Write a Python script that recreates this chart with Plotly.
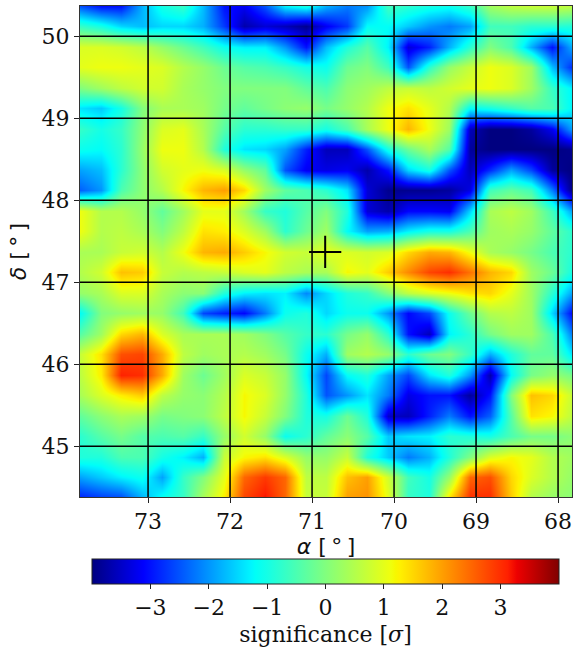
import plotly.graph_objects as go

alpha = [73.83, 73.58, 73.33, 73.08, 72.83, 72.58, 72.33, 72.08, 71.83, 71.58, 71.33, 71.08, 70.83,
         70.58, 70.33, 70.08, 69.83, 69.58, 69.33, 69.08, 68.83, 68.58, 68.33, 68.08, 67.83]
delta = [50.37, 50.12, 49.87, 49.62, 49.37, 49.12, 48.87, 48.62, 48.37, 48.12, 47.87, 47.62, 47.37,
         47.12, 46.87, 46.62, 46.37, 46.12, 45.87, 45.62, 45.37, 45.12, 44.87, 44.62, 44.37]
significance = [
 [-2.5,-3.0,-3.0,-1.8,-1.0,-0.7,-1.7,-3.0,-3.2,-2.5,-1.3,-1.0,-1.8, -2.2,-2.0,-0.6,-0.8,-1.0,-1.1,-0.7,0.3,0.6,0.7,0.7,0.6],
 [-0.7,-1.0,-1.5,-1.7,-1.5,-1.5,-1.8,-2.7,-3.7,-3.4,-3.6,-3.9,-3.2, -2.7,-1.2,-1.2,-1.6,-2.0,-2.2,-1.9,-0.6,-0.6,-0.8,-0.8,-0.9],
 [0.9,0.9,0.8,0.6,0.2,-0.2,-0.6,-1.1,-1.3,-1.3,-2.0,-3.0,-1.7, -0.9,-0.4,-1.3,-3.4,-2.9,-1.8,-0.8,0.0,-0.5,-1.8,-3.0,-1.8],
 [1.0,1.1,1.1,1.0,0.9,0.5,0.2,-0.2,-0.4,-0.5,-0.7,-1.0,-1.1, -0.2,0.0,-0.6,-2.5,-0.8,0.2,0.7,1.1,0.9,0.3,-1.7,-2.8],
 [0.0,0.3,0.6,0.8,0.8,0.4,0.2,0.0,0.0,0.0,0.0,-0.3,-0.5, 0.1,0.3,0.6,0.7,0.6,0.8,1.0,1.1,0.9,0.3,-0.7,-1.3],
 [-1.4,-1.6,-1.0,0.0,0.4,0.4,0.3,-0.1,-0.3,-0.1,0.1,0.2,-0.1, 0.2,0.5,1.1,1.4,1.0,0.5,-1.2,-1.0,-0.7,-0.4,-0.5,-1.3],
 [-0.7,-1.0,-0.7,0.1,0.9,1.0,0.4,-0.4,-0.8,-0.8,-0.7,-0.7,-1.0, -0.5,0.4,1.1,1.8,1.1,0.3,-3.6,-4.0,-4.0,-3.8,-3.2,-1.9],
 [-1.1,-1.2,-0.8,0.2,1.1,1.1,0.5,-0.9,-1.4,-1.5,-1.9,-2.9,-3.6, -3.6,-2.5,-1.0,-0.2,0.4,-0.4,-3.8,-4.0,-4.0,-4.0,-4.0,-3.9],
 [-1.9,-1.7,-0.8,0.1,0.8,1.0,1.1,0.9,0.2,-0.3,-2.5,-3.2,-3.3, -3.2,-3.7,-3.0,-1.5,-1.0,-2.5,-3.6,-2.8,-1.9,-2.6,-3.8,-4.0],
 [-2.4,-2.0,-0.5,0.1,0.5,1.2,1.8,2.0,1.5,0.3,-0.3,-0.5,-0.8, -1.4,-3.4,-3.9,-3.9,-3.9,-3.8,-3.3,-0.6,-0.3,-0.6,-2.2,-4.0],
 [1.1,0.5,0.5,0.2,-0.3,0.3,1.0,1.0,0.3,-0.7,-0.9,-0.4,0.0, -0.9,-3.4,-3.7,-3.1,-3.1,-3.2,-1.5,0.4,0.6,0.3,-0.6,-1.9],
 [1.1,0.5,0.6,0.4,0.0,0.6,1.4,1.3,0.9,0.3,-0.8,-0.2,0.3, -1.2,-1.9,-1.8,-1.3,-1.0,-1.0,-0.5,0.3,0.4,0.2,-0.3,-0.8],
 [0.4,0.4,0.7,0.8,0.5,1.1,1.8,1.9,1.6,1.2,0.8,0.7,1.0, 0.9,0.8,0.9,1.5,1.9,1.8,1.1,0.4,0.2,-0.1,-0.5,-0.8],
 [0.5,0.8,1.7,1.6,0.7,0.5,0.6,0.7,0.9,1.0,0.6,0.4,0.4, 1.2,1.0,1.6,2.2,2.8,3.0,2.4,1.8,1.5,0.3,-0.2,-1.0],
 [0.2,0.4,0.9,0.9,0.4,0.1,0.1,-0.9,-1.3,-1.4,-1.3,-2.1,-1.5, -0.9,-0.7,0.0,0.6,0.9,1.1,1.4,1.5,1.0,0.3,-0.8,-1.9],
 [-1.2,0.0,0.2,0.3,0.2,-0.6,-2.6,-2.9,-3.1,-2.2,-1.1,-0.9,-1.5, -1.1,-1.1,-2.0,-3.1,-2.6,-1.1,-0.2,0.5,0.6,0.3,-1.5,-3.1],
 [-0.4,0.3,1.5,1.8,0.9,0.4,0.4,0.4,0.3,0.0,-0.4,-0.7,-0.8, -0.1,0.2,-0.8,-3.0,-3.6,-1.3,-0.8,-0.1,0.3,0.3,-0.5,-2.2],
 [0.7,1.4,2.7,2.8,1.9,0.6,0.3,0.4,0.5,0.3,-0.1,-1.1,-1.8, 0.3,0.5,0.2,-0.8,-0.2,0.0,-0.7,-1.8,-0.9,-0.3,-0.3,-1.4],
 [0.6,1.3,3.1,3.0,1.9,0.3,-0.2,0.3,0.9,0.7,0.2,-1.2,-2.6, -1.2,-0.9,-1.9,-2.6,-1.4,-0.9,-2.0,-3.7,-1.2,-0.1,0.2,-0.1],
 [0.4,0.9,1.3,1.6,0.6,0.2,0.1,0.5,1.2,0.9,0.2,-0.9,-2.5, -2.0,-1.4,-2.2,-3.3,-3.0,-3.0,-3.8,-3.0,0.0,1.7,1.5,0.7],
 [-0.3,0.1,0.4,0.3,-0.1,0.0,0.1,0.6,1.2,0.7,0.0,-0.9,-1.0, -0.2,-0.9,-3.5,-3.6,-2.9,-2.2,-3.0,-2.4,-0.4,1.4,1.2,0.6],
 [-0.8,-0.4,-0.1,-0.4,-0.5,-0.4,-0.7,0.2,0.8,0.2,-1.1,-0.8,-0.3, 0.1,-0.4,-1.6,-1.4,-1.3,-0.8,-0.9,-1.0,-0.5,-0.1,-0.1,0.1],
 [-0.9,-0.9,-0.5,-0.5,-1.0,-1.3,-1.8,0.7,1.2,1.4,0.9,0.2,0.2, 0.7,-0.9,-1.6,-2.2,-1.8,-0.9,0.0,0.9,1.2,1.0,0.5,0.3],
 [-1.9,-1.6,-1.3,-1.1,-1.9,-0.7,0.0,1.0,2.5,2.9,2.5,0.6,0.6, 1.7,2.0,0.8,-0.6,-1.0,0.2,2.5,2.7,1.5,0.9,0.5,0.2],
 [-2.9,-2.7,-2.6,-1.8,-1.1,-0.7,0.4,1.3,2.8,3.2,2.5,0.7,0.7, 2.0,2.1,1.0,-0.7,-0.9,1.4,3.0,3.0,1.6,0.5,0.2,0.1],
]
alpha_ticks = [73, 72, 71, 70, 69, 68]
delta_ticks = [45, 46, 47, 48, 49, 50]
cbar_ticks = [-3, -2, -1, 0, 1, 2, 3]
source_alpha = [70.84]
source_delta = [47.37]

jet = [[0, "rgb(0,0,128)"], [0.11, "rgb(0,0,255)"], [0.125, "rgb(0,16,255)"], [0.34, "rgb(0,245,255)"],
       [0.35, "rgb(0,255,247)"], [0.375, "rgb(20,255,230)"], [0.5, "rgb(129,255,126)"], [0.64, "rgb(240,255,13)"],
       [0.65, "rgb(247,248,0)"], [0.66, "rgb(255,240,0)"], [0.89, "rgb(255,32,0)"], [0.91, "rgb(237,0,0)"],
       [1, "rgb(128,0,0)"]]

W, H = 574, 647
SERIF = "DejaVu Serif"
SANS = "DejaVu Sans"

fig = go.Figure()
fig.add_trace(go.Heatmap(
    x=alpha, y=delta, z=significance, zmin=-4, zmax=4, zsmooth="best", colorscale=jet,
    colorbar=dict(
        orientation="h", lenmode="pixels", len=467, thicknessmode="pixels", thickness=25,
        x=325.5 / W, xanchor="center", y=1 - 558.5 / H, yanchor="top", xpad=0, ypad=0,
        outlinecolor="#222", outlinewidth=1, ticks="outside", ticklen=5, tickwidth=1, tickcolor="#222",
        tickmode="array", tickvals=cbar_ticks, ticktext=["\u2212" + str(-t) if t < 0 else str(t) for t in cbar_ticks],
        tickfont=dict(family=SERIF, size=22, color="#111"),
        title=dict(text="significance [<i>\u03c3</i>]", side="bottom", font=dict(family=SERIF, size=22, color="#111")),
    ),
))
fig.add_trace(go.Scatter(
    x=source_alpha, y=source_delta, mode="markers", showlegend=False,
    marker=dict(symbol="cross-thin", size=23, color="black", line=dict(color="black", width=2)),
))
for a in alpha_ticks:
    fig.add_shape(type="line", xref="x", yref="paper", x0=a, x1=a, y0=1 - 497 / H, y1=1 - 6 / H,
                  line=dict(color="black", width=1.5), layer="above")
for d in delta_ticks:
    fig.add_shape(type="line", xref="paper", yref="y", x0=80 / W, x1=572 / W, y0=d, y1=d,
                  line=dict(color="black", width=1.5), layer="above")

fig.update_layout(
    width=W, height=H, autosize=False, margin=dict(l=0, r=0, t=0, b=0),
    paper_bgcolor="white", plot_bgcolor="white", showlegend=False,
)
fig.update_xaxes(
    domain=[80 / W, 572 / W], range=[73.83, 67.83], autorange=False, tickmode="array", tickvals=alpha_ticks,
    ticks="outside", ticklen=5, tickwidth=1, tickcolor="#222", showgrid=False, zeroline=False,
    showline=True, mirror=True, linecolor="#333", linewidth=1,
    tickfont=dict(family=SERIF, size=22, color="#111"),
    title=dict(text="<i>\u03b1</i> [\u2009\u00b0\u2009]", standoff=5, font=dict(family=SANS, size=22, color="#111")),
)
fig.update_yaxes(
    domain=[1 - 497 / H, 1 - 6 / H], range=[44.38, 50.37], autorange=False, tickmode="array", tickvals=delta_ticks,
    ticks="outside", ticklen=5, tickwidth=1, tickcolor="#222", showgrid=False, zeroline=False,
    showline=True, mirror=True, linecolor="#333", linewidth=1,
    tickfont=dict(family=SERIF, size=22, color="#111"),
    title=dict(text="<i>\u03b4</i> [\u2009\u00b0\u2009]", standoff=8, font=dict(family=SANS, size=22, color="#111")),
)
fig.write_html("out.html", config={"displayModeBar": False},
               post_script="document.body.style.margin='0';document.documentElement.style.overflow='hidden';")
